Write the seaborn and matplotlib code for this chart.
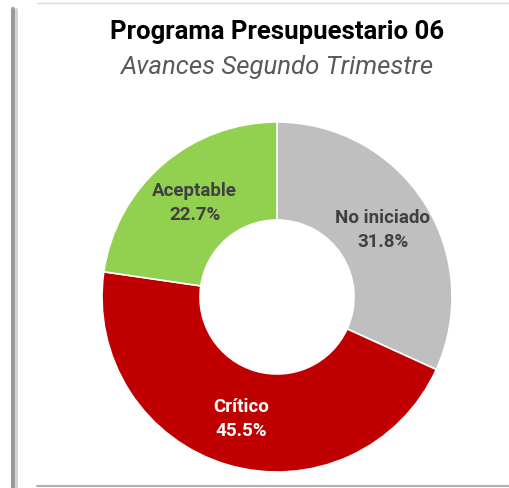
import matplotlib
matplotlib.use("Agg")
import matplotlib.pyplot as plt
import seaborn as sns
import numpy as np
from matplotlib.lines import Line2D

sns.set_theme(style="white")
plt.rcParams['font.family'] = ['Roboto', 'DejaVu Sans']

categories = ["No iniciado", "Crítico", "Aceptable"]
values = [31.8, 45.5, 22.7]
colors = ["#BFBFBF", "#C00000", "#92D050"]
text_colors = ["#404040", "#FFFFFF", "#404040"]
title = "Programa Presupuestario 06"
subtitle = "Avances Segundo Trimestre"

W, H = 509, 489
fig = plt.figure(figsize=(W / 100, H / 100), dpi=100)
fig.patch.set_facecolor("white")

# screenshot frame
fig.add_artist(Line2D([13 / W, 13 / W], [0, 1 - 10 / H], color="#9a9a9a", lw=3))
fig.add_artist(Line2D([16 / W, 16 / W], [0, 1 - 10 / H], color="#d0d0d0", lw=2))
fig.add_artist(Line2D([37 / W, 1], [1 - 4 / H, 1 - 4 / H], color="#dddddd", lw=1))
fig.add_artist(Line2D([37 / W, 1], [2 / H, 2 / H], color="#b0b0b0", lw=1.5))

cx, cy, R = 277, 298, 175
ax = fig.add_axes([(cx - R) / W, (H - cy - R) / H, 2 * R / W, 2 * R / H])
inner = 0.44
wedges, _ = ax.pie(values, colors=colors, startangle=90, counterclock=False,
                   radius=1.0, wedgeprops=dict(width=1 - inner, edgecolor="white", linewidth=1.2))
ax.set_xlim(-1, 1)
ax.set_ylim(-1, 1)
ax.set_aspect("equal")
ax.axis("off")

rlab = (1 + inner) / 2
for w, cat, v, tc in zip(wedges, categories, values, text_colors):
    ang = np.deg2rad((w.theta1 + w.theta2) / 2)
    x, y = rlab * np.cos(ang), rlab * np.sin(ang)
    ax.text(x, y, f"{cat}\n{v:.1f}%", ha="center", va="center", color=tc,
            fontsize=13.5, fontweight="bold", linespacing=1.4)

fig.text(cx / W, 1 - 32 / H, title, ha="center", va="center", fontsize=18.5,
         fontweight="bold", color="#000000")
fig.text(cx / W, 1 - 67 / H, subtitle, ha="center", va="center", fontsize=18.5,
         fontstyle="italic", color="#595959")

fig.savefig("out.png", dpi=100, facecolor="white")
